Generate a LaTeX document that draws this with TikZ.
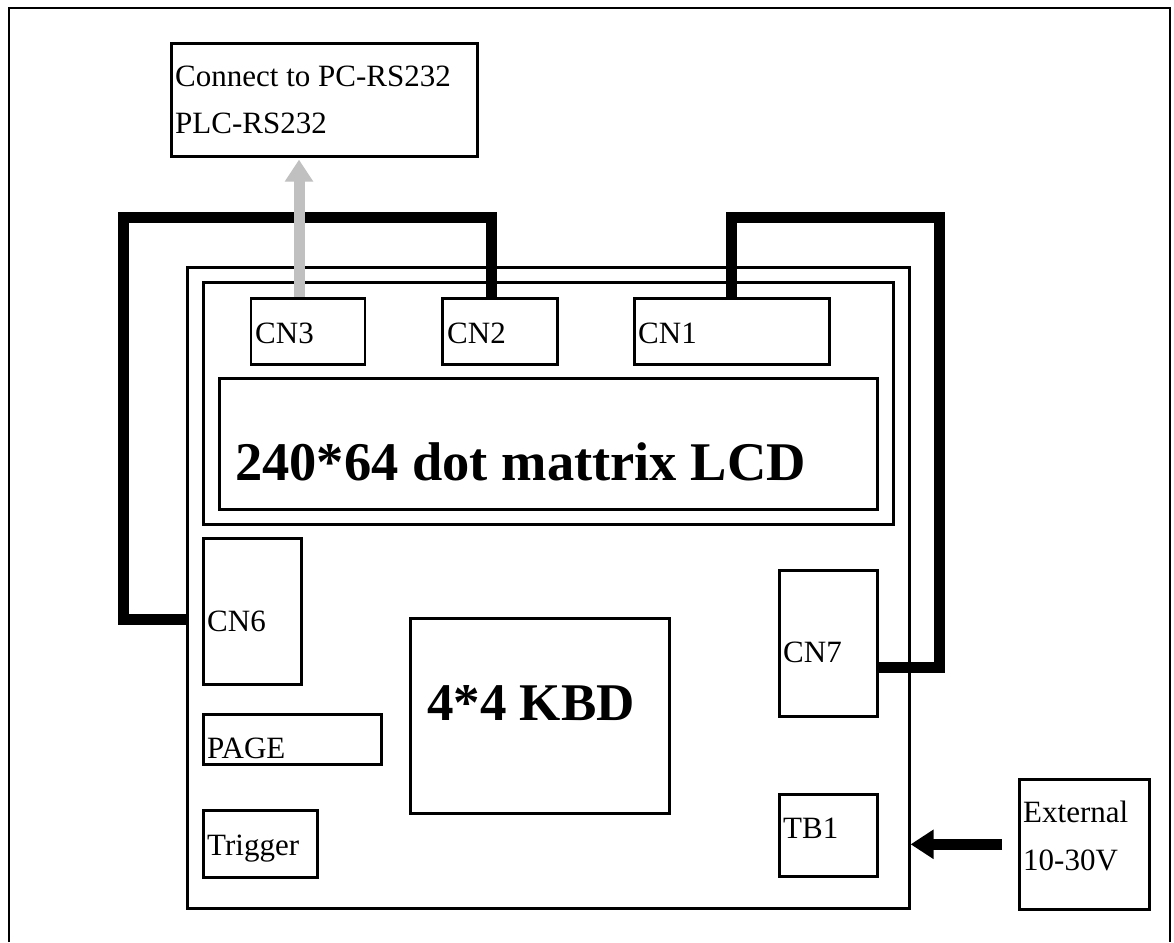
\documentclass[tikz,border=0pt]{standalone}
\usepackage{fontspec}
\setmainfont{Liberation Serif}
\usetikzlibrary{arrows.meta}
\definecolor{arrowgray}{RGB}{192,192,192}
\tikzset{
  box/.style={draw, line width=2.6pt, inner sep=0pt, anchor=north west},
  lbl/.style={anchor=base west, inner sep=0pt, font=\fontsize{31}{36}\selectfont},
  biglbl/.style={anchor=base west, inner sep=0pt, font=\fontsize{53}{60}\selectfont\bfseries},
  cable/.style={line width=11pt, miter limit=10},
  grayarrow/.style={draw=arrowgray, line width=11pt, -{Triangle[width=27pt,length=22pt]}},
  blackarrow/.style={line width=11pt, -{Triangle[width=28pt,length=23pt]}}
}
\begin{document}
\begin{tikzpicture}[x=1pt, y=-1pt]
\useasboundingbox (0,0) rectangle (1174,942);
\fill[white] (0,0) rectangle (1174,942);
% outer frame (bottom edge lies outside the picture)
\draw[line width=2.6pt] (9,942) -- (9,8) -- (1170,8) -- (1170,942);

% boxes
\node[box, minimum width=306pt, minimum height=113pt] (pc) at (170,42) {};
\node[box, minimum width=722pt, minimum height=641pt] (board) at (186,266) {};
\node[box, minimum width=690pt, minimum height=242pt] (panel) at (202,281) {};
\node[box, minimum width=114pt, minimum height=66pt] (cn3) at (249.5,297) {};
\node[box, minimum width=115pt, minimum height=66pt] (cn2) at (441,297) {};
\node[box, minimum width=195pt, minimum height=66pt] (cn1) at (633,297) {};
\node[box, minimum width=658pt, minimum height=131pt] (lcd) at (218,377) {};
\node[box, minimum width=98pt, minimum height=146pt] (cn6) at (202,537) {};
\node[box, minimum width=178pt, minimum height=50pt] (page) at (202,713) {};
\node[box, minimum width=114pt, minimum height=67pt] (trig) at (202,809) {};
\node[box, minimum width=259pt, minimum height=195pt] (kbd) at (409,617) {};
\node[box, minimum width=98pt, minimum height=146pt] (cn7) at (778,569) {};
\node[box, minimum width=98pt, minimum height=82pt] (tb1) at (778,793) {};
\node[box, minimum width=130pt, minimum height=130pt] (ext) at (1018,778) {};

% texts
\node[lbl] (pct1) at (175,86) {Connect to PC-RS232};
\node[lbl] (pct2) at (175,133) {PLC-RS232};
\node[lbl] (cn3t) at (255,343) {CN3};
\node[lbl] (cn2t) at (447,343) {CN2};
\node[lbl] (cn1t) at (638,343) {CN1};
\node[biglbl, font=\fontsize{54.5}{60}\selectfont\bfseries] (lcdt) at (235,480) {240*64 dot mattrix LCD};
\node[lbl] (cn6t) at (207,631) {CN6};
\node[lbl] (paget) at (207,758) {PAGE};
\node[lbl] (trigt) at (207,855) {Trigger};
\node[biglbl] (kbdt) at (427,720) {4*4 KBD};
\node[lbl] (cn7t) at (783,662) {CN7};
\node[lbl] (tb1t) at (783,838) {TB1};
\node[lbl] (extt1) at (1023,822) {External};
\node[lbl] (extt2) at (1023,870) {10-30V};

% connectors
\coordinate (lt) at (123,217);
\coordinate (rt) at (939,217);
\draw[cable] ([xshift=50pt]cn2.north west) |- (lt) |- ([yshift=-353pt]board.north west);
\draw[cable] ([xshift=98pt]cn1.north west) |- (rt) |- ([yshift=-98pt]cn7.north east);
\draw[grayarrow] ([xshift=49.5pt]cn3.north west) -- ([xshift=129pt,yshift=-2pt]pc.south west);
\draw[blackarrow] ([xshift=-16pt]ext.west) -- (ext.west -| board.east);
\end{tikzpicture}
\end{document}
